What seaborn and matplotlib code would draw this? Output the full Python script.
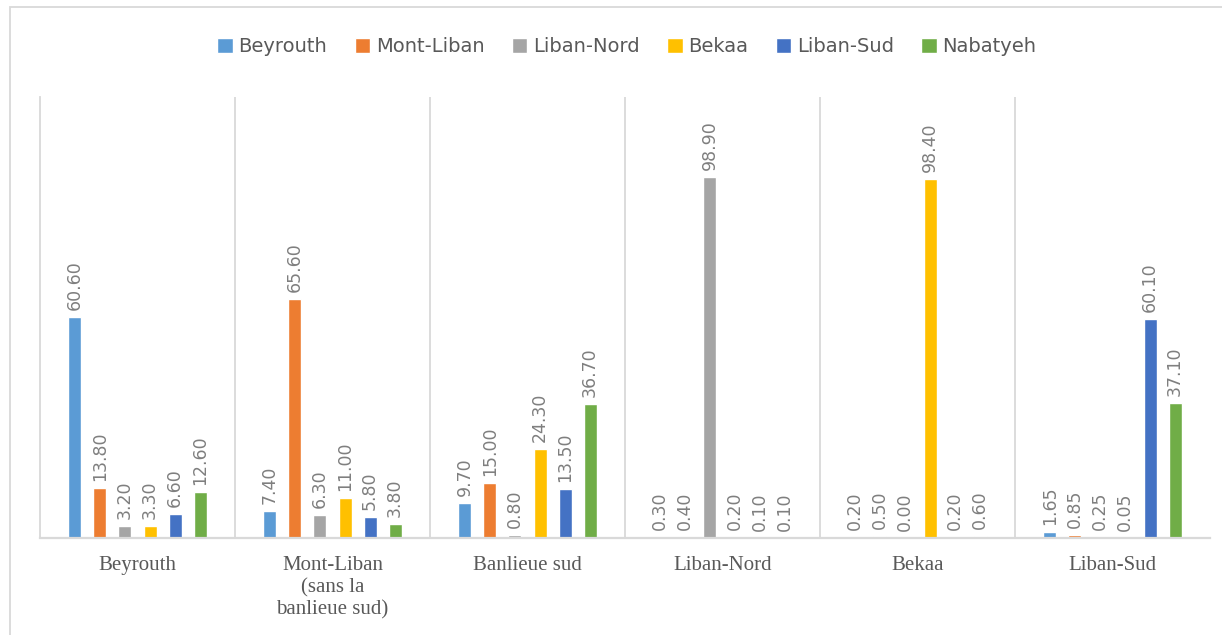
import matplotlib.pyplot as plt
import matplotlib.patches as mpatches
import pandas as pd
import seaborn as sns

# regions of residence (x groups) and region of origin (series)
regions = ["Beyrouth", "Mont-Liban\n(sans la\nbanlieue sud)", "Banlieue sud",
           "Liban-Nord", "Bekaa", "Liban-Sud"]
series = ["Beyrouth", "Mont-Liban", "Liban-Nord", "Bekaa", "Liban-Sud", "Nabatyeh"]
colors = ["#5B9BD5", "#ED7D31", "#A5A5A5", "#FFC000", "#4472C4", "#70AD47"]

beyrouth = [60.60, 7.40, 9.70, 0.30, 0.20, 1.65]
mont_liban = [13.80, 65.60, 15.00, 0.40, 0.50, 0.85]
liban_nord = [3.20, 6.30, 0.80, 98.90, 0.00, 0.25]
bekaa = [3.30, 11.00, 24.30, 0.20, 98.40, 0.05]
liban_sud = [6.60, 5.80, 13.50, 0.10, 0.20, 60.10]
nabatyeh = [12.60, 3.80, 36.70, 0.10, 0.60, 37.10]

values = [beyrouth, mont_liban, liban_nord, bekaa, liban_sud, nabatyeh]
rows = []
for s, vals in zip(series, values):
    for r, v in zip(regions, vals):
        rows.append({"region": r, "series": s, "value": v})
df = pd.DataFrame(rows)

sns.set_style("white")
fig = plt.figure(figsize=(12.22, 6.35), dpi=100)
ax = fig.add_axes([40 / 1222, 97 / 635, 1170 / 1222, 441 / 635])

sns.barplot(data=df, x="region", y="value", hue="series", order=regions,
            hue_order=series, palette=colors, width=0.77, gap=0.48,
            saturation=1, ax=ax, legend=True)

for cont in ax.containers:
    ax.bar_label(cont, fmt="%.2f", rotation=90, padding=5,
                 color="#7F7F7F", fontsize=12.5, family="DejaVu Sans")

ax.set_xlim(-0.5, 5.5)
ax.set_ylim(0, 120.8)
ax.set_xlabel("")
ax.set_ylabel("")
ax.set_yticks([])
ax.tick_params(axis="x", length=0, pad=13)
for lab in ax.get_xticklabels():
    lab.set_family("Liberation Serif")
    lab.set_fontsize(15)
    lab.set_color("#595959")
    lab.set_verticalalignment("top")
    lab.set_linespacing(1.2)

for b in [0.5, 1.5, 2.5, 3.5, 4.5]:
    ax.axvline(b, color="#D9D9D9", lw=1.3, zorder=0)
for side in ["top", "right"]:
    ax.spines[side].set_visible(False)
ax.spines["left"].set_color("#D9D9D9")
ax.spines["bottom"].set_color("#D9D9D9")
ax.spines["left"].set_linewidth(1.3)
ax.spines["bottom"].set_linewidth(1.6)

handles, labels = ax.get_legend_handles_labels()
ax.get_legend().remove()
fig.legend(handles, labels, loc="center", bbox_to_anchor=(0.513, 0.926),
           ncol=6, frameon=False, fontsize=14, handlelength=0.8,
           handleheight=0.8, handletextpad=0.3, columnspacing=1.4,
           labelcolor="#595959")

# outer chart border
fig.patches.append(mpatches.Rectangle((10 / 1222, -0.1), 1.2, (628 / 635) + 0.1,
                                      transform=fig.transFigure, fill=False,
                                      edgecolor="#D9D9D9", lw=1.3))

fig.savefig("out.png", dpi=100)
